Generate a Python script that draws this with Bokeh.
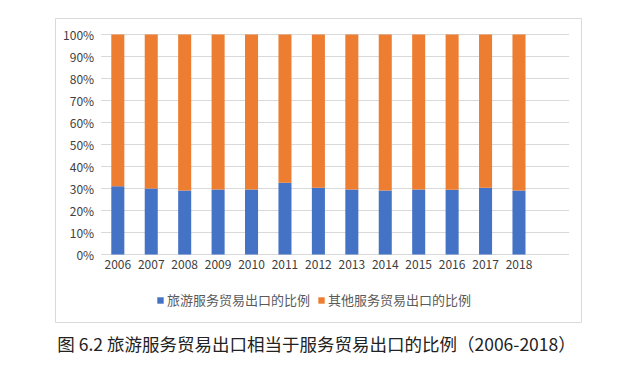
from bokeh.plotting import figure
from bokeh.models import (Range1d, FixedTicker, NumeralTickFormatter, Legend, LegendItem,
                          Title, ColumnDataSource)
from bokeh.embed import file_html
from bokeh.resources import INLINE

years = [2006, 2007, 2008, 2009, 2010, 2011, 2012, 2013, 2014, 2015, 2016, 2017, 2018]
tourism_share = [0.31, 0.30, 0.291, 0.295, 0.295, 0.326, 0.304, 0.295, 0.291, 0.295, 0.294, 0.304, 0.291]
series_names = ["旅游服务贸易出口的比例", "其他服务贸易出口的比例"]
y_ticks = [0.0, 0.1, 0.2, 0.3, 0.4, 0.5, 0.6, 0.7, 0.8, 0.9, 1.0]
caption = "图 6.2  旅游服务贸易出口相当于服务贸易出口的比例（2006-2018）"

BLUE = "#4472C4"
ORANGE = "#ED7D31"
GRID = "#D9D9D9"
FONT = "Noto Sans CJK SC"

src = ColumnDataSource(dict(year=years, tourism=tourism_share,
                            total=[1.0] * len(years)))

# plot frame = the light-grey chart box; the value area sits inside it
x_lo, x_hi = years[0] - 0.5, years[-1] + 1.5
p = figure(frame_width=526, frame_height=304, output_backend="svg", toolbar_location=None,
           x_range=Range1d(2004.136, 2019.87), y_range=Range1d(-0.309, 1.0727),
           min_border_left=55, min_border_top=18, min_border_right=49, min_border_bottom=30)
p.outline_line_color = GRID
p.background_fill_color = "white"
p.border_fill_color = "white"
p.xgrid.grid_line_color = None
p.ygrid.grid_line_color = None

gsrc = ColumnDataSource(dict(y=y_ticks, x0=[x_lo] * len(y_ticks), x1=[x_hi] * len(y_ticks)))
p.segment(x0="x0", x1="x1", y0="y", y1="y", source=gsrc, line_color=GRID, line_width=1)

r1 = p.vbar(x="year", bottom=0, top="tourism", width=0.39, source=src,
            fill_color=BLUE, line_color=None)
r2 = p.vbar(x="year", bottom="tourism", top="total", width=0.39, source=src,
            fill_color=ORANGE, line_color=None)

p.xaxis.ticker = FixedTicker(ticks=years)
p.yaxis.ticker = FixedTicker(ticks=y_ticks)
p.yaxis.formatter = NumeralTickFormatter(format="0%")
p.xaxis.fixed_location = 0
p.yaxis.fixed_location = x_lo
for ax in (p.xaxis[0], p.yaxis[0]):
    ax.axis_line_color = None
    ax.major_tick_line_color = None
    ax.minor_tick_line_color = None
    ax.major_tick_out = 0
    ax.major_tick_in = 0
    ax.major_label_text_font = FONT
    ax.major_label_text_font_size = "12px"
    ax.major_label_text_color = "#404040"
p.yaxis.major_label_standoff = 7
p.xaxis.major_label_standoff = 5

legend = Legend(items=[LegendItem(label=series_names[0], renderers=[r1]),
                       LegendItem(label=series_names[1], renderers=[r2])],
                orientation="horizontal", location=(101, 13))
legend.glyph_width = 8
legend.glyph_height = 8
legend.label_text_font = FONT
legend.label_text_font_size = "13px"
legend.label_text_color = "#595959"
legend.label_standoff = 3
legend.spacing = 7
legend.padding = 0
legend.margin = 0
legend.border_line_color = None
legend.background_fill_alpha = 0
p.add_layout(legend)

cap = Title(text=caption, align="center", text_font=FONT, text_font_size="17.5px",
            text_color="#222222", text_font_style="normal", standoff=12)
p.add_layout(cap, "below")

open("out.html", "w").write(file_html(p, INLINE))
